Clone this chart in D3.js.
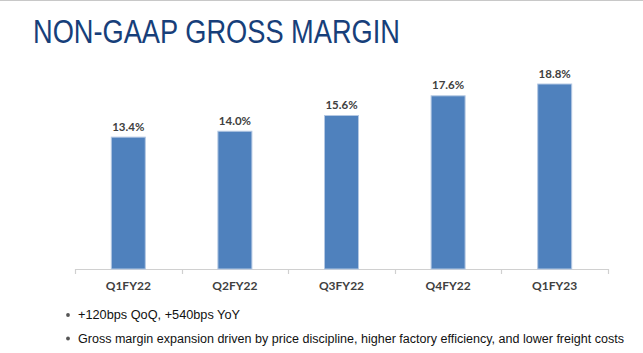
<!DOCTYPE html>
<html><head><meta charset="utf-8">
<script src="https://cdn.jsdelivr.net/npm/d3@7"></script>
<style>body{margin:0;background:#fff}svg{display:block}</style>
</head><body>
<script>
const categories = ["Q1FY22","Q2FY22","Q3FY22","Q4FY22","Q1FY23"];
const values = [13.4, 14.0, 15.6, 17.6, 18.8];
const valueLabels = ["13.4%","14.0%","15.6%","17.6%","18.8%"];
const bullets = ["+120bps QoQ, +540bps YoY",
  "Gross margin expansion driven by price discipline, higher factory efficiency, and lower freight costs"];
const title = "NON-GAAP GROSS MARGIN";

const W = 643, H = 353;
const svg = d3.select("body").append("svg").attr("width", W).attr("height", H);

svg.append("line").attr("x1",0).attr("x2",W).attr("y1",0.5).attr("y2",0.5)
  .attr("stroke","#c8c8c8").attr("stroke-width",1);

svg.append("text").attr("x",33).attr("y",43).text(title)
  .attr("font-family","Liberation Sans, Arial, sans-serif").attr("font-size",33)
  .attr("fill","#173f7a").attr("textLength",367).attr("lengthAdjust","spacingAndGlyphs");

const x = d3.scaleBand().domain(categories).range([75, 608]).paddingInner(0.68).paddingOuter(0.34);
const y = d3.scaleLinear().domain([0, 20]).range([269, 269 - 196.8]);

const axisG = svg.append("g");
axisG.append("line").attr("x1",75).attr("x2",608).attr("y1",269.5).attr("y2",269.5)
  .attr("stroke","#d0d0d0").attr("stroke-width",1.2);
const tickXs = d3.range(categories.length + 1).map(i => 75 + i * (533 / categories.length));
axisG.selectAll(".tk").data(tickXs).enter().append("line")
  .attr("x1", d => Math.round(d) + 0.5).attr("x2", d => Math.round(d) + 0.5)
  .attr("y1",269).attr("y2",274).attr("stroke","#d0d0d0").attr("stroke-width",1.2);

const bw = 34;
const cx = d => x(d) + x.bandwidth() / 2;
svg.selectAll(".bar").data(categories).enter().append("rect")
  .attr("x", d => cx(d) - bw/2)
  .attr("y", (d,i) => y(values[i]))
  .attr("width", bw)
  .attr("height", (d,i) => y(0) - y(values[i]))
  .attr("fill","#4f81bd").attr("stroke","#b4c8e3").attr("stroke-width",1);

svg.selectAll(".vl").data(categories).enter().append("text")
  .attr("x", d => cx(d)).attr("y", (d,i) => y(values[i]) - 6.5)
  .attr("text-anchor","middle").text((d,i) => valueLabels[i])
  .attr("font-family","Lato, 'Open Sans', sans-serif").attr("font-weight","bold")
  .attr("font-size",11.5).attr("fill","#404040");

svg.selectAll(".cl").data(categories).enter().append("text")
  .attr("x", d => cx(d)).attr("y", 289.5)
  .attr("text-anchor","middle").text(d => d)
  .attr("font-family","Lato, 'Open Sans', sans-serif").attr("font-weight","bold")
  .attr("font-size",12).attr("fill","#404040");

const by = [319, 342.5];
bullets.forEach((b, i) => {
  svg.append("circle").attr("cx",68).attr("cy",by[i]-4).attr("r",1.9).attr("fill","#555");
  svg.append("text").attr("x",78).attr("y",by[i]).text(b)
    .attr("font-family","Liberation Sans, Arial, sans-serif").attr("font-size",12.5)
    .attr("fill","#111")
    .attr("textLength", i === 0 ? 162 : 546).attr("lengthAdjust","spacingAndGlyphs");
});
</script>
</body></html>
